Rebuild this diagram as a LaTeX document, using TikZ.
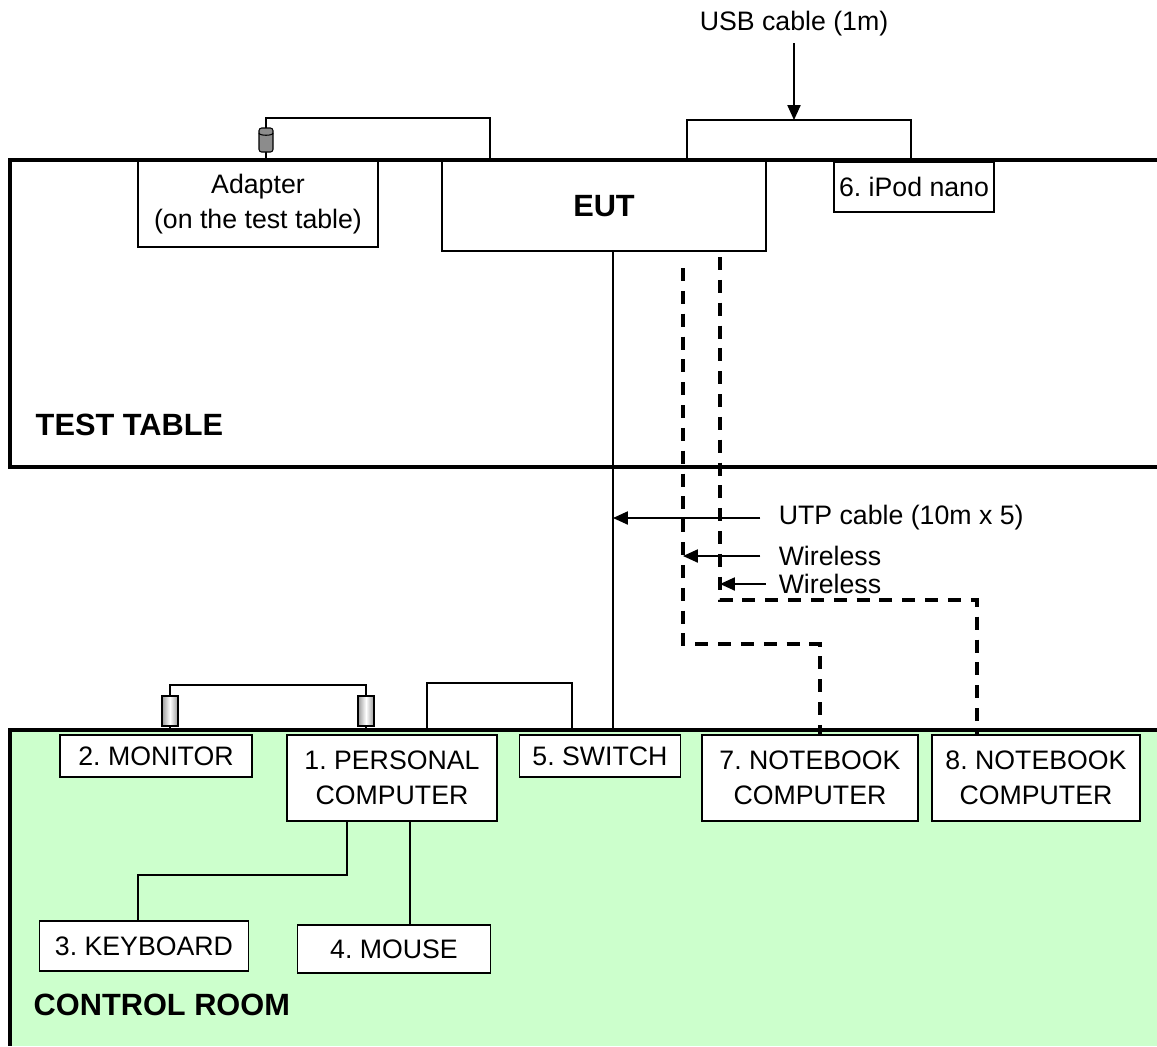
\documentclass[tikz,border=0pt]{standalone}
\usepackage{fontspec}
\setmainfont{Liberation Sans}
\usetikzlibrary{arrows.meta, calc}
\frenchspacing
\definecolor{cgreen}{HTML}{CCFFCC}
\definecolor{cferrite}{HTML}{8C8C8C}
\definecolor{cplug}{HTML}{9A9A9A}
\tikzset{
  every picture/.style={font=\fontsize{15.2}{20}\selectfont, line width=0.85pt, x=0.02cm, y=-0.02cm},
  box/.style={draw, fill=white, line width=1.1pt, align=center, inner sep=0pt},
  wall/.style={line width=2.8pt},
  cable/.style={draw, line width=0.85pt},
  wireless/.style={draw, line width=#1, dash pattern=on 7.4pt off 5.6pt},
  wireless/.default=2pt,
  arrow/.style={-{Triangle[length=8.5pt, width=7.5pt]}, line width=0.85pt},
  title/.style={font=\fontsize{17.5}{20}\selectfont\bfseries, anchor=west, inner sep=0pt},
  lbl/.style={anchor=west, inner sep=0pt},
  ferrite/.pic={
    \draw[fill=cferrite, line width=0.6pt, rounded corners=1.5pt] (-7,-12) rectangle (7,12);
    \draw[line width=0.6pt] (-7,-7) .. controls (-7,-4) and (7,-4) .. (7,-7);
  },
  plug/.pic={
    \draw[left color=cplug, right color=cplug, middle color=white, line width=0.7pt] (-8,-15) rectangle (8,15);
  },
}

\begin{document}
\begin{tikzpicture}
  \useasboundingbox (0,0) rectangle (1157,1046);

  \fill[cgreen] (10,730) rectangle (1157,1046);
  \draw[wall] (1157,160) -- (10,160) -- (10,467) -- (1157,467);
  \draw[wall] (1157,730) -- (10,730) -- (10,1046);
  \node[title] (tt) at (35,425) {TEST TABLE};
  \node[title] (cr) at (33,1005) {CONTROL ROOM};

  \node[box, minimum width=4.8cm, minimum height=1.72cm] (adapter) at (258,204) {Adapter\\(on the test table)};
  \node[box, minimum width=6.48cm, minimum height=1.8cm, font=\fontsize{17.5}{20}\selectfont\bfseries] (eut) at (604,206) {EUT};
  \node[box, minimum width=3.2cm, minimum height=1cm] (ipod) at (914,187) {6. iPod nano};

  \node[box, minimum width=3.84cm, minimum height=0.84cm] (monitor) at (156,756) {2. MONITOR};
  \node[box, minimum width=4.2cm, minimum height=1.72cm] (pc) at (392,778) {1. PERSONAL\\COMPUTER};
  \node[box, minimum width=3.22cm, minimum height=0.84cm] (switch) at (600,756) {5. SWITCH};
  \node[box, minimum width=4.32cm, minimum height=1.72cm] (nb7) at (810,778) {7. NOTEBOOK\\COMPUTER};
  \node[box, minimum width=4.16cm, minimum height=1.72cm] (nb8) at (1036,778) {8. NOTEBOOK\\COMPUTER};
  \node[box, minimum width=4.18cm, minimum height=1cm] (keyboard) at (144,946) {3. KEYBOARD};
  \node[box, minimum width=3.86cm, minimum height=0.96cm] (mouse) at (394,949) {4. MOUSE};

  \coordinate (adp-dc) at (266,160);
  \coordinate (eut-dc) at (490,160);
  \draw[cable] (adp-dc) -- ++(0,-42) -| (eut-dc);
  \pic at (266,140) {ferrite};

  \coordinate (eut-usb) at (687,160);
  \coordinate (ipod-usb) at (911,160);
  \coordinate (usb-top) at (794,120);
  \draw[cable] (eut-usb) |- (usb-top) -| (ipod-usb);
  \node (usblbl) at (794,24) {USB cable (1m)};
  \draw[arrow] (usblbl) -- (usb-top);

  \coordinate (eut-lan) at (613,250);
  \coordinate (sw-lan) at (613,730);
  \draw[cable] (eut-lan) -- (sw-lan);

  \coordinate (wl7) at (683,268);
  \coordinate (wl8) at (720,257);
  \draw[wireless] (wl7) |- ($(nb7.north)+(10,-90)$) -- ($(nb7.north)+(10,0)$);
  \draw[wireless=2.2pt] (wl8) |- ($(nb8.north)+(-59,-134)$) -- ($(nb8.north)+(-59,0)$);

  \node[lbl] (utplbl) at (778,518) {UTP cable (10m x 5)};
  \node[lbl] (wl7lbl) at (778,556) {Wireless};
  \node[lbl] (wl8lbl) at (778,584) {Wireless};
  \draw[arrow] ([xshift=-10pt]utplbl.west) -- (utplbl.west -| eut-lan);
  \draw[arrow] ([xshift=-10pt]wl7lbl.west) -- (wl7lbl.west -| wl7);
  \draw[arrow] ([xshift=-7pt]wl8lbl.west) -- (wl8lbl.west -| wl8);

  \draw[cable] (170,730) -- (170,685) -- (366,685) -- (366,730);
  \pic at (170,711) {plug};
  \pic at (366,711) {plug};
  \draw[cable] (427,730) |- (572,683) -- (572,730);

  \draw[cable] ($(pc.south)+(-45,0)$) |- ($(keyboard.north)+(-6,-45)$) -- ($(keyboard.north)+(-6,0)$);
  \draw[cable] ($(pc.south)+(18,0)$) coordinate (ms) -- (ms |- mouse.north);
\end{tikzpicture}
\end{document}
